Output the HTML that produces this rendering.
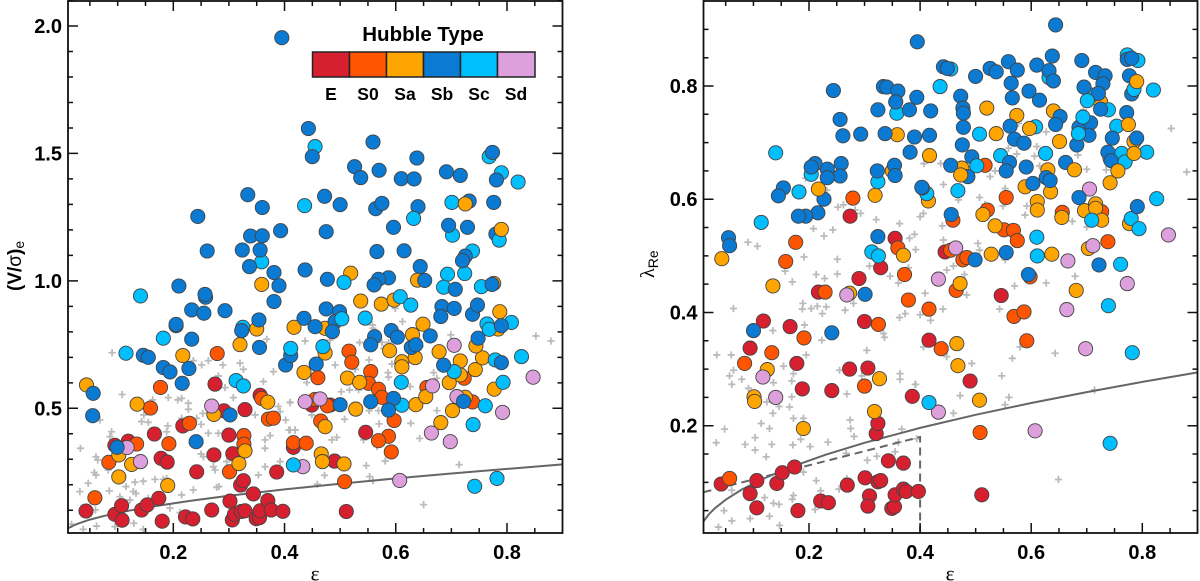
<!DOCTYPE html>
<html lang="en">
<head>
<meta charset="utf-8">
<title>Hubble type scatter panels</title>
<style>
html,body{margin:0;padding:0;background:#fff;width:1200px;height:581px;overflow:hidden}
svg{display:block}
text{font-family:"Liberation Sans",sans-serif;fill:#000}
.tick-label{font-size:20px;font-weight:bold}
.legend-label{font-size:17.5px;font-weight:bold}
</style>
</head>
<body>
<svg id="chart" xmlns="http://www.w3.org/2000/svg" width="1200" height="581" viewBox="0 0 1200 581">
  <g id="left-panel"></g>
  <g id="right-panel"></g>
  <g id="legend">
    <text x="423" y="41" text-anchor="middle" font-size="20.5" font-weight="bold">Hubble Type</text>
    <rect x="312.5" y="52" width="37" height="25" fill="#d62030" stroke="#222" stroke-width="1.5"/>
    <rect x="349.5" y="52" width="37" height="25" fill="#ff5500" stroke="#222" stroke-width="1.5"/>
    <rect x="386.5" y="52" width="37" height="25" fill="#ffa500" stroke="#222" stroke-width="1.5"/>
    <rect x="423.5" y="52" width="37" height="25" fill="#0a7ad2" stroke="#222" stroke-width="1.5"/>
    <rect x="460.5" y="52" width="37" height="25" fill="#00bfff" stroke="#222" stroke-width="1.5"/>
    <rect x="497.5" y="52" width="37.5" height="25" fill="#dda0dd" stroke="#222" stroke-width="1.5"/>
    <text class="legend-label" x="331" y="100" text-anchor="middle">E</text>
    <text class="legend-label" x="368" y="100" text-anchor="middle">S0</text>
    <text class="legend-label" x="405" y="100" text-anchor="middle">Sa</text>
    <text class="legend-label" x="442" y="100" text-anchor="middle">Sb</text>
    <text class="legend-label" x="479" y="100" text-anchor="middle">Sc</text>
    <text class="legend-label" x="516" y="100" text-anchor="middle">Sd</text>
  </g>
  <text x="315" y="580.5" text-anchor="middle" font-size="21" style="font-family:'Liberation Serif',serif">ε</text>
  <text x="950" y="580.5" text-anchor="middle" font-size="21" style="font-family:'Liberation Serif',serif">ε</text>
  <text transform="translate(21,291) rotate(-90)" font-size="19" font-weight="bold">(V/<tspan font-weight="normal">σ</tspan>)<tspan font-size="14" font-weight="normal" dy="3">e</tspan></text>
  <text transform="translate(654,278) rotate(-90)" font-size="20" style="font-family:'Liberation Serif',serif">λ<tspan font-size="14" dy="4" style="font-family:'Liberation Sans',sans-serif">Re</tspan></text>
</svg>
<script>
// ---------- left panel data: (V/sigma)_e vs ellipticity ----------
const leftEpsE=[.043,.095,.107,.108,.143,.153,.174,.180,.222,.235,.269,.302,.306,.310,.322,.329,.321,.326,.344,.349,.355,.356,.370,.376,.397,.242,.178,.189,.166,.217,.275,.291,.329,.300,.273,.307,.386,.095,.119,.416,.356,.511,.546,.490,.449,.482];
const leftValE=[.097,.084,.118,.061,.101,.121,.147,.057,.074,.066,.101,.136,.062,.084,.095,.098,.199,.216,.164,.067,.071,.098,.138,.101,.096,.251,.304,.289,.399,.431,.595,.490,.495,.395,.317,.322,.250,.355,.371,.347,.551,.095,.406,.293,.513,.513];
const leftEpsS0=[.059,.084,.134,.192,.159,.177,.279,.229,.327,.327,.301,.359,.371,.380,.416,.508,.516,.521,.555,.551,.569,.575,.460,.455,.477,.465,.439,.587,.569,.592,.597,.656,.723,.738];
const leftValS0=[.149,.288,.360,.361,.501,.582,.715,.441,.393,.359,.251,.539,.458,.461,.365,.212,.724,.681,.644,.598,.575,.543,.620,.535,.510,.450,.363,.390,.373,.329,.452,.582,.618,.525];
const leftEpsSa=[.044,.135,.102,.125,.102,.190,.217,.320,.350,.273,.370,.329,.318,.417,.473,.537,.574,.597,.649,.630,.589,.611,.611,.635,.473,.435,.513,.535,.528,.636,.654,.702,.681,.678,.716,.716,.743,.756,.744,.696,.777,.787,.784,.725,.466,.468,.473,.507,.519,.639,.776,.359];
const leftValSa=[.592,.516,.317,.280,.231,.197,.707,.750,.811,.476,.524,.333,.283,.818,.814,.921,.909,.925,.830,.789,.726,.683,.663,.699,.717,.641,.619,.602,.497,.514,.546,.491,.444,.722,.686,.631,.652,.698,.745,.601,.575,.879,.811,.543,.321,.291,.428,.282,1.030,1.003,.990,.986];
const leftEpsSd=[.269,.117,.141,.437,.464,.433,.705,.666,.710,.847,.792,.664,.698,.607];
const leftValSd=[.509,.346,.291,.526,.537,.271,.747,.588,.546,.622,.484,.403,.369,.217];
const leftEpsSc=[.115,.141,.182,.313,.326,.325,.416,.359,.436,.455,.768,.790,.820,.701,.702,.738,.724,.693,.507,.686,.754,.469,.545,.608,.627,.764,.768,.808,.826,.779,.705,.793,.610,.611,.761,.739,.742,.782];
const leftValSc=[.716,.941,.775,.609,.588,.818,.278,1.075,1.295,1.527,1.487,1.424,1.388,1.308,1.179,1.117,1.029,1.026,.994,.975,.977,.742,.854,.938,.905,.831,.810,.837,.703,.690,.644,.602,.602,.512,.510,.436,.194,.225];
const leftEpsSb=[.056,.055,.099,.146,.155,.182,.194,.216,.228,.233,.205,.205,.233,.255,.258,.257,.293,.210,.323,.354,.355,.402,.411,.381,.302,.241,.395,.334,.360,.244,.393,.339,.360,.261,.324,.356,.337,.381,.390,.443,.450,.526,.537,.570,.559,.610,.633,.638,.691,.716,.774,.781,.472,.500,.564,.575,.640,.732,.776,.596,.475,.695,.729,.780,.566,.615,.725,.720,.644,.437,.477,.587,.569,.561,.652,.707,.773,.435,.455,.475,.499,.491,.486,.683,.681,.705,.738,.747,.457,.500,.555,.596,.587,.562,.555,.592,.603,.628,.636,.662,.686,.748,.790,.790,.722];
const leftValSb=[.559,.471,.347,.708,.700,.660,.643,.598,.656,.771,.824,.829,.886,.873,.936,.947,.883,.980,.805,.847,.739,.670,.707,.919,.474,.369,1.954,1.338,1.288,1.253,1.197,1.176,1.177,1.117,1.121,1.121,1.056,1.033,.981,1.598,1.487,1.448,1.405,1.434,1.545,1.401,1.400,1.482,1.428,1.414,1.504,1.396,1.332,1.299,1.283,1.304,1.291,1.313,1.308,1.210,1.193,1.218,1.210,1.184,1.115,1.118,1.097,1.079,1.056,1.043,1.006,1.012,1.006,.984,1.002,.967,.986,.853,.820,.890,.879,.840,.801,.899,.860,.892,.869,.905,.674,.514,.526,.539,.493,.781,.749,.805,.779,.739,.749,.784,.669,.775,.824,.679,.527];
const leftEpsScTop=[.411,.632,.786,.503];
const leftValScTop=[.735,1.245,1.160,.851];
const leftEpsSaTop=[.725,.790];
const leftValSaTop=[1.302,1.202];
const leftEpsGrey=[.090,.108,.033,.061,.064,.058,.061,.047,.032,.085,.104,.115,.122,.128,.133,.146,.131,.143,.155,.147,.163,.191,.208,.215,.227,.227,.215,.190,.188,.212,.242,.250,.253,.263,.281,.236,.251,.263,.289,.320,.326,.281,.293,.308,.362,.380,.368,.389,.392,.410,.347,.365,.365,.374,.272,.275,.250,.254,.296,.365,.392,.353,.236,.278,.282,.215,.194,.212,.167,.182,.188,.191,.149,.155,.095,.062,.038,.017,.060,.129,.146,.083,.080,.089,.086,.068,.368,.329,.410,.419,.437,.482,.535,.575,.587,.612,.558,.559,.599,.699,.852,.879,.552,.586,.587,.593,.491,.527,.440,.502,.517,.533,.626,.668,.674,.410,.402,.449,.508,.570,.627,.674,.643,.408,.419,.485,.494,.542,.566,.547,.581,.714,.472,.459,.553,.559,.650,.644,.578,.552,.569];
const leftValGrey=[.718,.554,.343,.310,.297,.248,.238,.206,.173,.176,.153,.193,.140,.173,.166,.214,.210,.448,.445,.474,.533,.542,.533,.539,.520,.496,.461,.431,.408,.441,.461,.437,.480,.402,.402,.687,.670,.687,.670,.677,.653,.627,.581,.542,.605,.644,.771,.507,.487,.522,.474,.376,.343,.393,.271,.258,.321,.310,.291,.271,.291,.238,.180,.190,.193,.160,.108,.091,.221,.221,.225,.193,.127,.147,.036,.038,.025,.045,.101,.049,.025,.258,.271,.408,.389,.454,.153,.180,.415,.415,.764,.768,.758,.759,.758,.840,.827,.814,.892,.788,.784,.764,.690,.640,.622,.674,.670,.653,.601,.565,.572,.572,.585,.640,.618,.524,.454,.474,.457,.439,.441,.491,.382,.415,.415,.376,.386,.376,.350,.275,.293,.279,.237,.202,.232,.216,.122,.742,.735,.491,.491];

// ---------- right panel data: lambda_Re vs ellipticity ----------
const rightEpsE=[.042,.106,.094,.106,.142,.152,.174,.180,.221,.235,.269,.301,.309,.306,.324,.329,.343,.370,.349,.354,.355,.370,.375,.397,.321,.324,.386,.241,.188,.178,.273,.306,.094,.118,.166,.300,.217,.511,.416,.490,.546,.355,.329,.290,.274,.445];
const rightValE=[.097,.103,.080,.055,.098,.117,.127,.050,.067,.064,.095,.108,.076,.058,.101,.103,.138,.134,.054,.057,.078,.088,.084,.084,.186,.204,.252,.262,.265,.310,.300,.302,.337,.385,.375,.384,.436,.078,.351,.279,.430,.531,.479,.460,.570,.507];
const rightEpsS0=[.057,.084,.133,.191,.325,.300,.379,.229,.438,.416,.508,.592,.569,.587,.465,.176,.158,.279,.360,.372,.517,.459,.521,.555,.551,.568,.575,.455,.477,.484,.656,.727,.738,.598];
const rightValS0=[.107,.310,.329,.355,.379,.270,.422,.436,.336,.406,.188,.350,.393,.401,.439,.524,.490,.602,.514,.467,.660,.563,.581,.603,.546,.545,.527,.510,.493,.497,.577,.578,.525,.463];
const rightEpsSa=[.101,.102,.125,.190,.318,.327,.135,.273,.466,.468,.507,.681,.043,.319,.350,.359,.370,.417,.475,.520,.537,.574,.640,.651,.725,.785,.742,.742,.630,.589,.635,.415,.513,.535,.611,.611,.655,.696,.716,.716,.727,.777,.528,.637,.703,.472];
const rightValSa=[.251,.243,.299,.195,.225,.283,.447,.434,.345,.306,.245,.439,.495,.607,.650,.714,.501,.677,.655,.761,.716,.748,.756,.702,.772,.702,.672,.629,.652,.622,.613,.597,.573,.553,.596,.581,.568,.580,.592,.584,.563,.557,.503,.503,.513,.451];
const rightEpsSd=[.117,.140,.268,.433,.664,.698,.607,.464,.433,.666,.705,.711,.847,.773];
const rightValSd=[.286,.250,.431,.224,.405,.336,.191,.514,.459,.491,.618,.518,.537,.451];
const rightEpsSc=[.140,.114,.182,.204,.324,.358,.313,.325,.455,.436,.507,.608,.632,.709,.739,.754,.773,.792,.820,.808,.763,.626,.545,.468,.412,.826,.709,.780,.794,.610,.611,.761,.739,.782,.416,.742];
const rightValSc=[.682,.559,.613,.644,.631,.752,.507,.500,.830,.799,.715,.728,.815,.784,.758,.729,.855,.845,.793,.683,.681,.681,.677,.615,.610,.601,.563,.566,.548,.533,.500,.485,.412,.329,.241,.169];
const rightEpsSb=[.244,.256,.261,.293,.337,.324,.334,.340,.360,.356,.381,.394,.395,.390,.382,.354,.355,.323,.258,.256,.233,.233,.211,.204,.227,.216,.194,.181,.154,.145,.055,.057,.324,.301,.404,.100,.241,.644,.442,.449,.500,.526,.537,.559,.575,.564,.610,.638,.632,.640,.691,.716,.733,.729,.695,.721,.773,.781,.777,.781,.596,.615,.566,.473,.477,.478,.419,.478,.562,.570,.587,.652,.644,.686,.707,.704,.682,.725,.772,.746,.790,.417,.476,.493,.455,.486,.561,.555,.591,.662,.738,.744,.603,.627,.634,.403,.686,.791,.456,.555,.499,.722,.595];
const rightValSb=[.792,.741,.712,.715,.716,.758,.799,.798,.791,.772,.758,.780,.878,.710,.683,.660,.642,.650,.663,.641,.653,.638,.663,.657,.600,.576,.570,.570,.620,.606,.532,.518,.534,.432,.620,.368,.364,.908,.834,.831,.817,.831,.825,.843,.828,.805,.837,.853,.827,.809,.845,.824,.818,.804,.798,.787,.847,.849,.818,.786,.791,.775,.779,.782,.761,.752,.756,.727,.729,.706,.699,.746,.732,.727,.735,.713,.696,.759,.753,.708,.708,.713,.696,.675,.660,.640,.665,.650,.657,.665,.683,.668,.628,.638,.633,.621,.603,.587,.573,.506,.493,.484,.467];
const rightEpsScTop=[.701,.693,.685,.769,.785,.502];
const rightValScTop=[.774,.745,.716,.666,.794,.659];
const rightEpsSaTop=[.217,.473,.597,.678,.756,.775,.785,.790];
const rightValSaTop=[.618,.643,.725,.652,.650,.732,.681,.808];
const rightEpsGrey=[.034,.060,.064,.064,.057,.079,.061,.091,.135,.136,.169,.172,.154,.195,.192,.189,.188,.204,.215,.224,.231,.265,.280,.304,.223,.255,.268,.295,.334,.336,.364,.364,.392,.363,.373,.169,.146,.165,.135,.124,.114,.129,.048,.103,.033,.085,.103,.133,.123,.172,.190,.185,.171,.202,.234,.274,.275,.281,.267,.305,.322,.355,.367,.361,.213,.221,.172,.170,.120,.136,.146,.211,.254,.268,.047,.061,.037,.094,.129,.147,.061,.190,.090,.107,.157,.170,.191,.208,.227,.243,.252,.262,.283,.293,.321,.363,.251,.213,.228,.251,.194,.232,.309,.346,.361,.381,.390,.392,.379,.400,.852,.880,.700,.674,.684,.735,.627,.577,.559,.610,.606,.574,.526,.535,.553,.407,.437,.615,.442,.469,.507,.517,.406,.549,.592,.589,.440,.442,.504,.507,.460,.448,.480,.553,.674,.700,.679,.627,.570,.694,.409,.484,.441,.400,.419,.543,.580,.406,.643,.448,.493,.566,.547,.391,.472,.560,.553,.460,.394,.649,.714];
const rightValGrey=[.325,.325,.407,.298,.288,.282,.273,.266,.368,.276,.279,.292,.305,.325,.378,.416,.406,.407,.411,.398,.410,.404,.416,.333,.351,.298,.256,.288,.363,.356,.292,.282,.273,.391,.398,.251,.234,.233,.222,.242,.204,.195,.194,.179,.170,.167,.157,.167,.145,.213,.213,.176,.166,.163,.171,.210,.195,.181,.151,.139,.146,.154,.194,.171,.103,.085,.077,.070,.073,.063,.061,.052,.088,.107,.050,.032,.021,.036,.040,.024,.086,.118,.524,.517,.473,.454,.498,.548,.535,.546,.586,.590,.581,.575,.564,.557,.494,.467,.460,.468,.637,.616,.482,.464,.452,.531,.538,.511,.479,.569,.725,.648,.653,.646,.678,.652,.719,.734,.690,.693,.676,.680,.640,.650,.619,.663,.663,.659,.626,.599,.603,.591,.575,.588,.588,.572,.553,.528,.522,.510,.482,.475,.467,.493,.561,.551,.464,.452,.447,.758,.434,.431,.406,.396,.386,.406,.339,.339,.328,.322,.310,.319,.288,.273,.253,.250,.237,.222,.177,.105,.263];

// ---------- reference curves ----------
const curveEps=[.01,.02,.03,.05,.08,.12,.17,.23,.3,.4,.5,.6,.7,.8,.9];
const leftCurveVal=[.0282,.0399,.0489,.0632,.0800,.0982,.1172,.1367,.1566,.1818,.2043,.2249,.2442,.2624,.2797];
const rightCurveVal=[.031,.0438,.0537,.0693,.0877,.1074,.1278,.1487,.1698,.1961,.2192,.2401,.2594,.2773,.2941];
const dashEps=[.01,.4,.4];
const dashVal=[.0825,.18,.01];

// ---------- ticks ----------
const xMajorTicks=[.2,.4,.6,.8];
const xMinorTicks=[.05,.1,.15,.25,.3,.35,.45,.5,.55,.65,.7,.75,.85];
const leftYMajorTicks=[.5,1,1.5,2];
const leftYMinorTicks=[.1,.2,.3,.4,.6,.7,.8,.9,1.1,1.2,1.3,1.4,1.6,1.7,1.8,1.9,2.1];
const rightYMajorTicks=[.2,.4,.6,.8];
const rightYMinorTicks=[.05,.1,.15,.25,.3,.35,.45,.5,.55,.65,.7,.75,.85,.9];
const xTickLabels=["0.2","0.4","0.6","0.8"];
const leftYTickLabels=["0.5","1.0","1.5","2.0"];
const rightYTickLabels=["0.2","0.4","0.6","0.8"];

const typeColors=["#d62030","#ff5500","#ffa500","#dda0dd","#00bfff","#0a7ad2"];
const typeNames=["e","s0","sa","sd","sc","sb"];

const NS="http://www.w3.org/2000/svg";
function make(tag,parent){const el=document.createElementNS(NS,tag);parent.appendChild(el);return el;}
function linearScale(d0,p0,d1,p1){return v=>p0+(v-d0)*(p1-p0)/(d1-d0);}

function drawPanel(root,box,xS,yS,grey,series,curve,dash,ticks){
  const greyG=make("g",root);
  
  
  grey.eps.forEach((e,i)=>{
    const cx=xS(e),cy=yS(grey.val[i]),s=3.6;
    const p=make("path",greyG);
    p.setAttribute("d","M"+(cx-s)+" "+cy+"H"+(cx+s)+"M"+cx+" "+(cy-s)+"V"+(cy+s));
    p.setAttribute("stroke","#bbb");
    p.setAttribute("stroke-width","1.8");
    p.setAttribute("fill","none");
    
    
  });
  const lineP=make("path",root);
  lineP.setAttribute("d",curve.eps.map((e,i)=>(i?"L":"M")+xS(e).toFixed(1)+" "+yS(curve.val[i]).toFixed(1)).join(""));
  lineP.setAttribute("fill","none");
  lineP.setAttribute("stroke","#666");
  lineP.setAttribute("stroke-width","2");
  
  
  if(dash){
    const d=make("path",root);
    d.setAttribute("d",dash.eps.map((e,i)=>(i?"L":"M")+xS(e).toFixed(1)+" "+yS(dash.val[i]).toFixed(1)).join(""));
    d.setAttribute("fill","none");
    d.setAttribute("stroke","#666");
    d.setAttribute("stroke-width","2");
    d.setAttribute("stroke-dasharray","8 5");
    
    
  }
  series.forEach(s=>{
    s.eps.forEach((e,i)=>{
      const c=make("circle",root);
      c.setAttribute("cx",xS(e).toFixed(1));
      c.setAttribute("cy",yS(s.val[i]).toFixed(1));
      c.setAttribute("r","7.1");
      c.setAttribute("fill",typeColors[s.type]);
      c.setAttribute("stroke","#444");
      c.setAttribute("stroke-width","0.9");
      
      
    });
  });
  const frame=make("rect",root);
  frame.setAttribute("x",box.l);
  frame.setAttribute("y",box.t);
  frame.setAttribute("width",box.r-box.l);
  frame.setAttribute("height",box.b-box.t);
  frame.setAttribute("fill","none");
  frame.setAttribute("stroke","#111");
  frame.setAttribute("stroke-width","1.8");
  
  
  let d="";
  xMajorTicks.forEach(t=>{const x=xS(t);d+="M"+x+" "+box.b+"V"+(box.b-10)+"M"+x+" "+box.t+"V"+(box.t+10);});
  xMinorTicks.forEach(t=>{const x=xS(t);d+="M"+x+" "+box.b+"V"+(box.b-5)+"M"+x+" "+box.t+"V"+(box.t+5);});
  ticks.yMajor.forEach(t=>{const y=yS(t);d+="M"+box.l+" "+y+"H"+(box.l+10)+"M"+box.r+" "+y+"H"+(box.r-10);});
  ticks.yMinor.forEach(t=>{const y=yS(t);d+="M"+box.l+" "+y+"H"+(box.l+5)+"M"+box.r+" "+y+"H"+(box.r-5);});
  const tp=make("path",root);
  tp.setAttribute("d",d);
  tp.setAttribute("stroke","#111");
  tp.setAttribute("stroke-width","1.5");
  tp.setAttribute("fill","none");
  
  
  xMajorTicks.forEach((t,i)=>{
    const l=make("text",root);
    l.setAttribute("class","tick-label");
    l.setAttribute("x",xS(t));
    l.setAttribute("y",box.b+26);
    l.setAttribute("text-anchor","middle");
    l.textContent=xTickLabels[i];
    
    
  });
  ticks.yMajor.forEach((t,i)=>{
    const l=make("text",root);
    l.setAttribute("class","tick-label");
    l.setAttribute("x",box.l-6);
    l.setAttribute("y",yS(t)+7);
    l.setAttribute("text-anchor","end");
    l.textContent=ticks.yLabels[i];
    
    
  });
}

const leftBox={l:68,r:562.5,t:1,b:533};
const rightBox={l:703.5,r:1197.5,t:1,b:533};
drawPanel(document.getElementById("left-panel"),leftBox,
  linearScale(.2,173.3,.8,507),linearScale(.5,408.3,2,26),
  {eps:leftEpsGrey,val:leftValGrey},
  [{type:0,eps:leftEpsE,val:leftValE},{type:1,eps:leftEpsS0,val:leftValS0},{type:2,eps:leftEpsSa,val:leftValSa},{type:3,eps:leftEpsSd,val:leftValSd},{type:4,eps:leftEpsSc,val:leftValSc},{type:5,eps:leftEpsSb,val:leftValSb},{type:4,eps:leftEpsScTop,val:leftValScTop},{type:2,eps:leftEpsSaTop,val:leftValSaTop}],
  {eps:curveEps,val:leftCurveVal},null,
  {yMajor:leftYMajorTicks,yMinor:leftYMinorTicks,yLabels:leftYTickLabels});
drawPanel(document.getElementById("right-panel"),rightBox,
  linearScale(.2,809,.8,1142.3),linearScale(.2,425.7,.8,86),
  {eps:rightEpsGrey,val:rightValGrey},
  [{type:0,eps:rightEpsE,val:rightValE},{type:1,eps:rightEpsS0,val:rightValS0},{type:2,eps:rightEpsSa,val:rightValSa},{type:3,eps:rightEpsSd,val:rightValSd},{type:4,eps:rightEpsSc,val:rightValSc},{type:5,eps:rightEpsSb,val:rightValSb},{type:4,eps:rightEpsScTop,val:rightValScTop},{type:2,eps:rightEpsSaTop,val:rightValSaTop}],
  {eps:curveEps,val:rightCurveVal},{eps:dashEps,val:dashVal},
  {yMajor:rightYMajorTicks,yMinor:rightYMinorTicks,yLabels:rightYTickLabels});
document.getElementById("chart").appendChild(document.getElementById("legend"));
</script>
</body>
</html>
